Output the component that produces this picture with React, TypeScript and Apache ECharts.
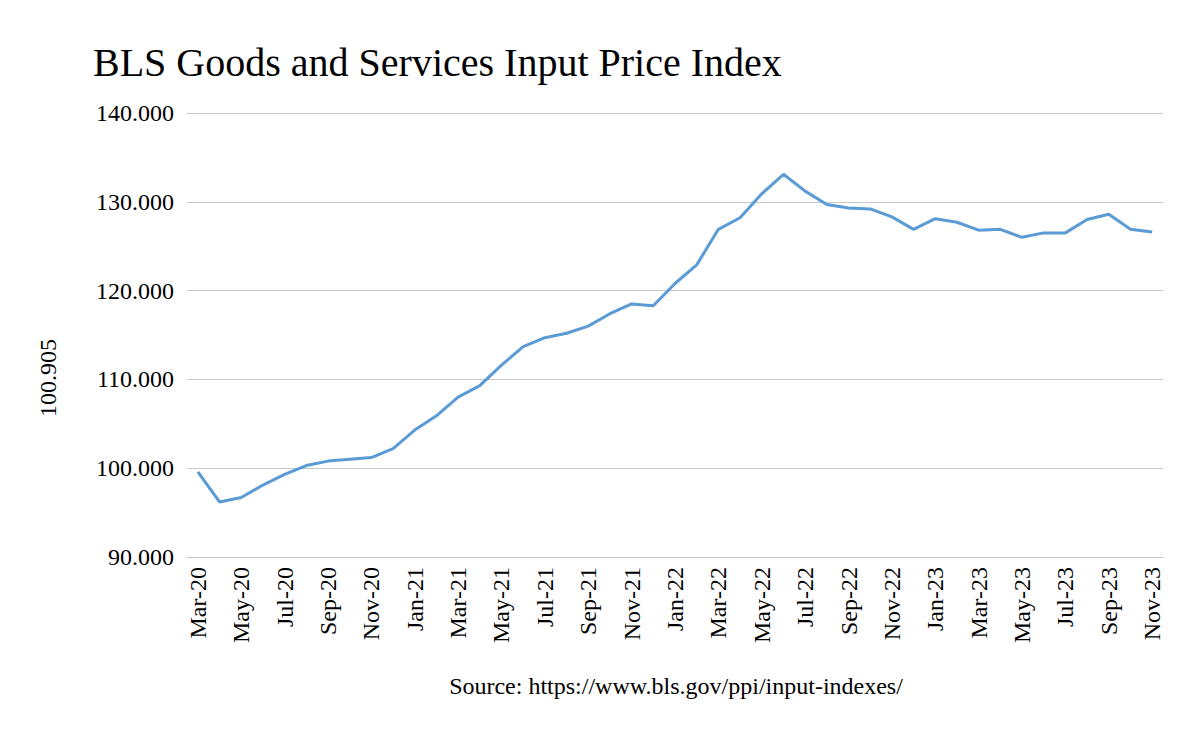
import React, { useEffect, useRef } from "react";
import * as echarts from "echarts";

const months = [
  "Mar-20","Apr-20","May-20","Jun-20","Jul-20","Aug-20","Sep-20","Oct-20","Nov-20","Dec-20",
  "Jan-21","Feb-21","Mar-21","Apr-21","May-21","Jun-21","Jul-21","Aug-21","Sep-21","Oct-21","Nov-21","Dec-21",
  "Jan-22","Feb-22","Mar-22","Apr-22","May-22","Jun-22","Jul-22","Aug-22","Sep-22","Oct-22","Nov-22","Dec-22",
  "Jan-23","Feb-23","Mar-23","Apr-23","May-23","Jun-23","Jul-23","Aug-23","Sep-23","Oct-23","Nov-23",
];

const indexValues = [
  99.6, 96.2, 96.7, 98.1, 99.3, 100.3, 100.8, 101.0, 101.2, 102.2,
  104.3, 105.9, 108.0, 109.3, 111.6, 113.7, 114.7, 115.2, 116.0, 117.4, 118.5, 118.3,
  120.8, 122.9, 126.9, 128.2, 130.9, 133.1, 131.2, 129.7, 129.3, 129.2, 128.3, 126.9,
  128.1, 127.7, 126.8, 126.9, 126.0, 126.5, 126.5, 128.0, 128.6, 126.9, 126.6,
];

const yMin = 90;
const yMax = 140;
const yStep = 10;

const titleText = "BLS Goods and Services Input Price Index";
const yAxisTitle = "100.905";
const sourceText = "Source: https://www.bls.gov/ppi/input-indexes/";

const FONT = "'Liberation Serif', 'Times New Roman', serif";

export default function App() {
  const ref = useRef<HTMLDivElement>(null);
  useEffect(() => {
    if (!ref.current) return;
    const chart = echarts.init(ref.current, undefined, { renderer: "svg" });
    chart.setOption({
      animation: false,
      backgroundColor: "#ffffff",
      textStyle: { fontFamily: FONT },
      title: {
        text: titleText,
        left: 88,
        top: 37,
        textStyle: { fontFamily: FONT, fontSize: 40, fontWeight: "normal", color: "#000" },
      },
      grid: { left: 187, right: 37, top: 113, bottom: 185, containLabel: false },
      xAxis: {
        type: "category",
        data: months,
        boundaryGap: true,
        axisLine: { show: true, lineStyle: { color: "#c8c8c8", width: 1 } },
        axisTick: { show: false },
        axisLabel: {
          interval: 1,
          rotate: 90,
          margin: 10,
          fontFamily: FONT,
          fontSize: 24,
          color: "#000",
        },
      },
      yAxis: {
        type: "value",
        min: yMin,
        max: yMax,
        interval: yStep,
        axisLine: { show: false },
        axisTick: { show: false },
        splitLine: { show: true, lineStyle: { color: "#c8c8c8", width: 1 } },
        axisLabel: {
          margin: 13,
          fontFamily: FONT,
          fontSize: 24,
          color: "#000",
          formatter: (v: number) => v.toFixed(3),
        },
      },
      graphic: [
        {
          type: "text",
          x: 48,
          y: 378,
          rotation: Math.PI / 2,
          style: {
            text: yAxisTitle,
            fontFamily: FONT,
            fontSize: 24,
            fill: "#000",
            align: "center",
            verticalAlign: "middle",
          },
        },
        {
          type: "text",
          x: 676,
          y: 686,
          style: {
            text: sourceText,
            fontFamily: FONT,
            fontSize: 24,
            fill: "#000",
            align: "center",
            verticalAlign: "middle",
          },
        },
      ],
      series: [
        {
          type: "line",
          data: indexValues,
          symbol: "none",
          lineStyle: { color: "#5B9BD5", width: 3 },
          itemStyle: { color: "#5B9BD5" },
        },
      ],
    });
    return () => chart.dispose();
  }, []);
  return (
    <div
      ref={ref}
      style={{ position: "absolute", left: 0, top: 0, width: 1200, height: 742 }}
    />
  );
}
